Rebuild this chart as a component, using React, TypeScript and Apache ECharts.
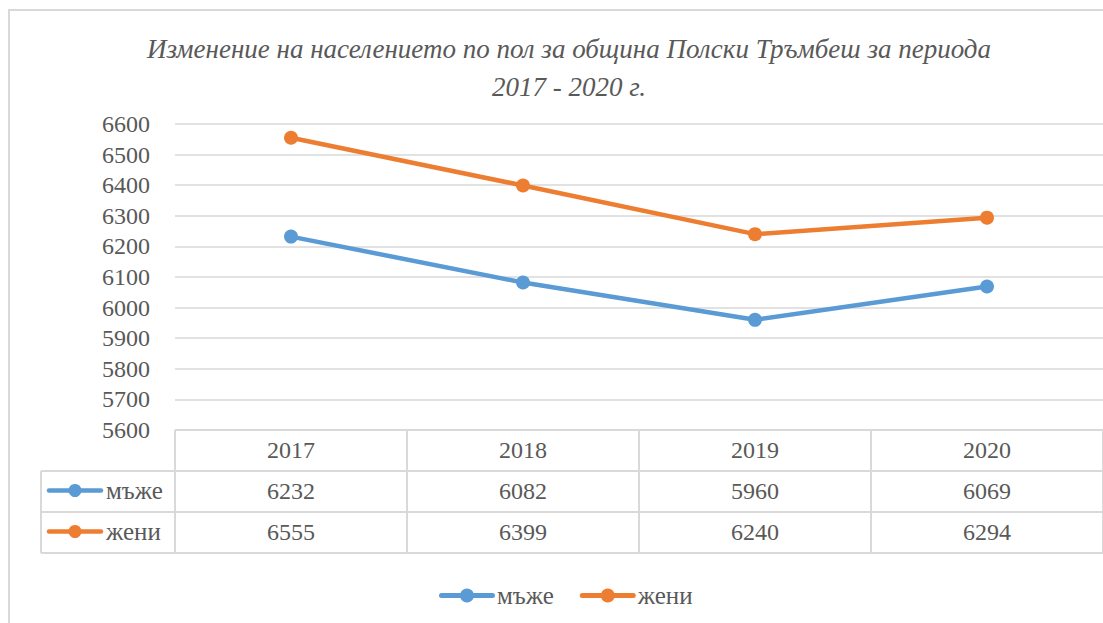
import React, { useEffect, useRef } from "react";
import * as echarts from "echarts";

const categories = ["2017", "2018", "2019", "2020"];
const seriesNames = ["мъже", "жени"];
const maleValues = [6232, 6082, 5960, 6069];
const femaleValues = [6555, 6399, 6240, 6294];
const yMin = 5600;
const yMax = 6600;
const yInterval = 100;
const titleLines = [
  "Изменение на населението по пол за община Полски Тръмбеш за периода",
  "2017 - 2020 г.",
];

const COLORS = ["#5B9BD5", "#ED7D31"];
const TEXT = "#595959";
const GRID = "#d9d9d9";
const FONT = "Liberation Serif";
const LEGEND_ICON =
  "path://M2.5,5.5 H53.5 A2.5,2.5 0 0 1 53.5,10.5 H2.5 A2.5,2.5 0 0 1 2.5,5.5 Z M28,1 A7,7 0 1 1 27.99,1 Z";

export default function App() {
  const ref = useRef<HTMLDivElement>(null);
  useEffect(() => {
    if (!ref.current) return;
    const chart = echarts.init(ref.current, undefined, { renderer: "svg" });
    const seriesData = [maleValues, femaleValues];
    const gridLeft = 175;
    const gridTop = 124;
    const gridBottomY = 430;
    const rowH = 41;
    const option: any = {
      animation: false,
      backgroundColor: "#fff",
      textStyle: { fontFamily: FONT },
      title: {
        text: titleLines.join("\n"),
        left: 564,
        top: 25,
        textAlign: "center",
        textStyle: {
          fontFamily: FONT,
          fontStyle: "italic",
          fontWeight: "normal",
          fontSize: 27,
          color: TEXT,
          lineHeight: 38,
        },
      },
      legend: {
        left: 434,
        top: 578,
        icon: LEGEND_ICON,
        itemWidth: 56,
        itemHeight: 14,
        itemGap: 26,
        textStyle: { fontFamily: FONT, fontSize: 25, color: TEXT, padding: [0, 0, 0, -3] },
        data: seriesNames,
      },
      grid: {
        left: gridLeft,
        top: gridTop,
        width: 933,
        height: gridBottomY - gridTop,
        containLabel: false,
      },
      xAxis: {
        type: "category",
        data: categories,
        boundaryGap: true,
        axisLine: { show: false },
        axisTick: { show: false },
        axisLabel: { show: false },
      },
      yAxis: {
        type: "value",
        min: yMin,
        max: yMax,
        interval: yInterval,
        axisLine: { show: false },
        axisTick: { show: false },
        axisLabel: {
          fontFamily: FONT,
          fontSize: 24,
          color: TEXT,
          margin: 25,
          formatter: (v: number) => String(v),
        },
        splitLine: { lineStyle: { color: GRID, width: 1.5 } },
      },
      series: seriesNames.map((name, i) => ({
        name,
        type: "line",
        data: seriesData[i],
        symbol: "circle",
        symbolSize: 14,
        lineStyle: { width: 4.5, color: COLORS[i], cap: "round" },
        itemStyle: { color: COLORS[i] },
      })),
    };
    chart.setOption(option);

    // build data table using axis scales
    const graphics: any[] = [];
    const bandCenters = categories.map(
      (c) => chart.convertToPixel({ xAxisIndex: 0 }, c) as number
    );
    const band = bandCenters.length > 1 ? bandCenters[1] - bandCenters[0] : 233;
    const leftX = bandCenters[0] - band / 2;
    const rightX = bandCenters[bandCenters.length - 1] + band / 2;
    const yBase = chart.convertToPixel({ yAxisIndex: 0 }, yMin) as number;
    const lineStyle = { stroke: GRID, lineWidth: 2 };
    const legendColLeft = 41;
    const nRows = seriesNames.length + 1;
    for (let r = 0; r <= nRows; r++) {
      const y = yBase + r * rowH;
      graphics.push({
        type: "line",
        shape: { x1: r === 0 ? leftX : legendColLeft, y1: y, x2: rightX, y2: y },
        style: lineStyle,
      });
    }
    for (let c = 0; c <= categories.length; c++) {
      const x = leftX + c * band;
      graphics.push({
        type: "line",
        shape: { x1: x, y1: yBase, x2: x, y2: yBase + nRows * rowH },
        style: lineStyle,
      });
    }
    graphics.push({
      type: "line",
      shape: { x1: legendColLeft, y1: yBase + rowH, x2: legendColLeft, y2: yBase + nRows * rowH },
      style: lineStyle,
    });
    categories.forEach((c, i) => {
      graphics.push({
        type: "text",
        x: bandCenters[i],
        y: yBase + rowH / 2 - 1,
        style: {
          text: c,
          fill: TEXT,
          font: `24px ${FONT}`,
          textAlign: "center",
          textVerticalAlign: "middle",
        },
      });
    });
    seriesNames.forEach((name, s) => {
      const cy = yBase + (s + 1) * rowH + rowH / 2;
      seriesData[s].forEach((v, i) => {
        graphics.push({
          type: "text",
          x: bandCenters[i],
          y: cy - 1,
          style: {
            text: String(v),
            fill: TEXT,
            font: `24px ${FONT}`,
            textAlign: "center",
            textVerticalAlign: "middle",
          },
        });
      });
      graphics.push({
        type: "line",
        shape: { x1: 49, y1: cy - 1, x2: 101, y2: cy - 1 },
        style: { stroke: COLORS[s], lineWidth: 4.5, lineCap: "round" },
      });
      graphics.push({
        type: "circle",
        shape: { cx: 75, cy: cy - 1, r: 6.5 },
        style: { fill: COLORS[s] },
      });
      graphics.push({
        type: "text",
        x: 106,
        y: cy - 1,
        style: {
          text: name,
          fill: TEXT,
          font: `25px ${FONT}`,
          textAlign: "left",
          textVerticalAlign: "middle",
        },
      });
    });
    graphics.push({
      type: "polyline",
      shape: { points: [[9, 640], [9, 10], [1120, 10]] },
      style: { stroke: GRID, lineWidth: 2, fill: null },
    });
    chart.setOption({ graphic: graphics });

    return () => chart.dispose();
  }, []);
  return (
    <div
      ref={ref}
      style={{ position: "fixed", left: 0, top: 0, width: 1103, height: 623 }}
    />
  );
}
